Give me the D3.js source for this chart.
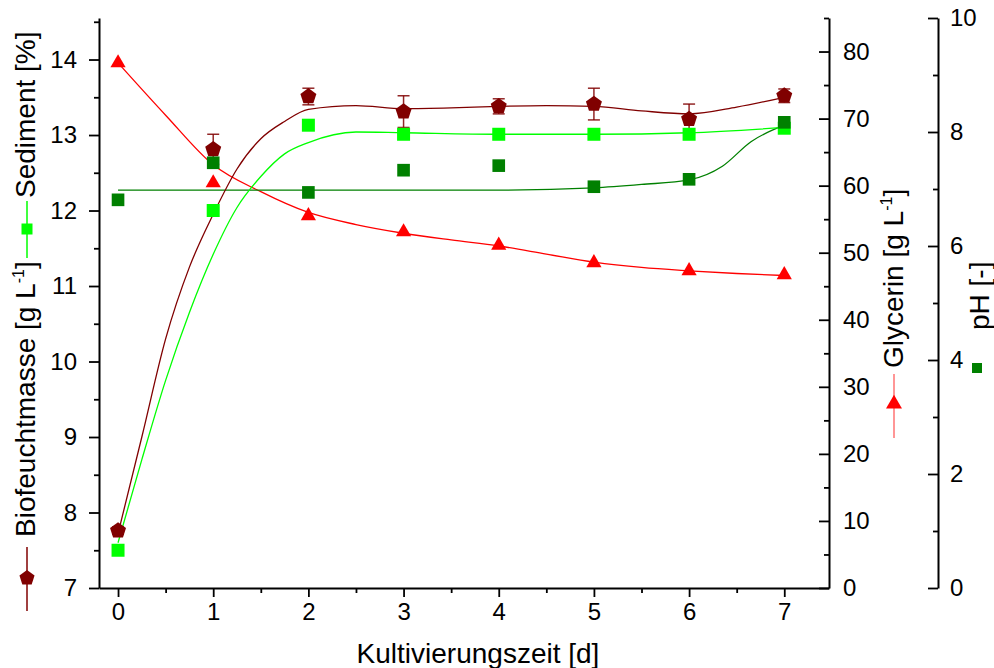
<!DOCTYPE html>
<html>
<head>
<meta charset="utf-8">
<script src="https://cdn.jsdelivr.net/npm/d3@7"></script>
<style>
  body { margin: 0; background: #fff; }
  svg text { font-family: "Liberation Sans", Arial, sans-serif; fill: #000; }
</style>
</head>
<body>
<svg id="chart" width="994" height="668"></svg>
<script>
// measured points
const days = [0, 1, 2, 3, 4, 5, 6, 7];
const biomass = [7.76, 12.81, 13.51, 13.31, 13.38, 13.41, 13.21, 13.52];
const biomassErr = [0.05, 0.2, 0.11, 0.21, 0.1, 0.21, 0.2, 0.09];
const sediment = [7.50, 12.00, 13.13, 13.01, 13.01, 13.01, 13.01, 13.09];
const glycerin = [78.3, 60.4, 55.5, 53.1, 51.1, 48.5, 47.3, 46.7];
const ph = [6.81, 7.46, 6.94, 7.33, 7.41, 7.04, 7.17, 8.17];

// fitted curves
const biomassFitDays = [0, 0.25, 0.5, 0.75, 1, 1.25, 1.5, 1.75, 2, 2.5, 3, 3.5, 4, 4.5, 5, 5.5, 6, 6.5, 7];
const biomassFit = [7.72, 9.0, 10.3, 11.25, 11.95, 12.55, 12.95, 13.18, 13.34, 13.39, 13.35, 13.36, 13.38, 13.39, 13.38, 13.32, 13.28, 13.37, 13.5];
const sedimentFitDays = [0, 0.25, 0.5, 0.75, 1, 1.25, 1.5, 1.75, 2, 2.5, 3, 4, 5, 6, 7];
const sedimentFit = [7.6, 8.7, 9.75, 10.65, 11.42, 12.04, 12.45, 12.75, 12.9, 13.04, 13.03, 13.01, 13.01, 13.03, 13.1];
const glycerinFitDays = [0, 0.5, 1, 1.5, 2, 2.5, 3, 3.5, 4, 4.5, 5, 5.5, 6, 6.5, 7];
const glycerinFit = [78.3, 70.5, 63.1, 59.1, 56.0, 54.2, 52.9, 51.9, 51.0, 49.8, 48.6, 47.8, 47.3, 46.9, 46.6];
const phFitDays = [0, 1, 2, 3, 4, 5, 5.5, 6, 6.35, 6.65, 7];
const phFit = [6.98, 6.98, 6.98, 6.98, 6.98, 7.02, 7.08, 7.16, 7.4, 7.83, 8.12];

// ticks
const xTicks = [0, 1, 2, 3, 4, 5, 6, 7];
const xMinor = [0.5, 1.5, 2.5, 3.5, 4.5, 5.5, 6.5];
const leftTicks = [7, 8, 9, 10, 11, 12, 13, 14];
const leftMinor = [7.5, 8.5, 9.5, 10.5, 11.5, 12.5, 13.5, 14.5];
const glyTicks = [0, 10, 20, 30, 40, 50, 60, 70, 80];
const glyMinor = [5, 15, 25, 35, 45, 55, 65, 75, 85];
const phTicks = [0, 2, 4, 6, 8, 10];
const phMinor = [1, 3, 5, 7, 9];

const darkRed = "#800000";
const lime = "#00ff00";
const darkGreen = "#008000";
const red = "#ff0000";

const svg = d3.select("#chart");
const plotTop = 18, plotBottom = 588, plotLeft = 99, axisG = 829, axisP = 938;

const x = d3.scaleLinear().domain([-0.2, 7.47]).range([plotLeft, axisG]);
const yL = d3.scaleLinear().domain([7, 14.55]).range([plotBottom, plotTop]);
const yG = d3.scaleLinear().domain([0, 85]).range([plotBottom, plotTop]);
const yP = d3.scaleLinear().domain([0, 10]).range([plotBottom, plotTop]);

const pentagon = {
  draw(context, size) {
    const r = Math.sqrt(size / 2.378);
    for (let i = 0; i < 5; i++) {
      const a = -Math.PI / 2 + i * 2 * Math.PI / 5;
      if (i === 0) context.moveTo(r * Math.cos(a), r * Math.sin(a));
      else context.lineTo(r * Math.cos(a), r * Math.sin(a));
    }
    context.closePath();
  }
};

function styleAxis(g) {
  g.select(".domain").attr("stroke-width", 2);
  g.selectAll(".tick line").attr("stroke-width", 1.8);
  g.selectAll(".tick text").style("font-size", "24px").attr("fill", "#000");
}

function minorAxis(axis, values, size) {
  return axis.tickValues(values).tickSize(size).tickFormat("");
}

// x axis
svg.append("g")
  .attr("transform", `translate(0,${plotBottom})`)
  .call(minorAxis(d3.axisBottom(x), xMinor, 5))
  .call(g => g.select(".domain").remove())
  .call(styleAxis);
svg.append("g")
  .attr("transform", `translate(0,${plotBottom})`)
  .call(d3.axisBottom(x).tickValues(xTicks).tickSize(9).tickSizeOuter(0).tickPadding(6).tickFormat(d3.format("d")))
  .call(styleAxis);

// left axis
svg.append("g")
  .attr("transform", `translate(${plotLeft},0)`)
  .call(minorAxis(d3.axisLeft(yL), leftMinor, 5))
  .call(g => g.select(".domain").remove())
  .call(styleAxis);
svg.append("g")
  .attr("transform", `translate(${plotLeft},0)`)
  .call(d3.axisLeft(yL).tickValues(leftTicks).tickSize(10).tickSizeOuter(0).tickPadding(12).tickFormat(d3.format("d")))
  .call(styleAxis);

// glycerin axis
svg.append("g")
  .attr("transform", `translate(${axisG},0)`)
  .call(minorAxis(d3.axisRight(yG), glyMinor, -5))
  .call(g => g.select(".domain").remove())
  .call(styleAxis);
svg.append("g")
  .attr("transform", `translate(${axisG},0)`)
  .call(d3.axisRight(yG).tickValues(glyTicks).tickSize(-10).tickSizeOuter(0).tickPadding(14).tickFormat(d3.format("d")))
  .call(styleAxis);

// pH axis
svg.append("g")
  .attr("transform", `translate(${axisP},0)`)
  .call(minorAxis(d3.axisRight(yP), phMinor, -5))
  .call(g => g.select(".domain").remove())
  .call(styleAxis);
svg.append("g")
  .attr("transform", `translate(${axisP},0)`)
  .call(d3.axisRight(yP).tickValues(phTicks).tickSize(-10).tickSizeOuter(0).tickPadding(12).tickFormat(d3.format("d")))
  .call(styleAxis);

// fitted lines
function drawFit(xs, ys, yScale, color) {
  const line = d3.line()
    .x((d, i) => x(xs[i]))
    .y(d => yScale(d))
    .curve(d3.curveMonotoneX);
  svg.append("path")
    .datum(ys)
    .attr("d", line)
    .attr("fill", "none")
    .attr("stroke", color)
    .attr("stroke-width", 1.3);
}

drawFit(glycerinFitDays, glycerinFit, yG, red);
drawFit(phFitDays, phFit, yP, darkGreen);
drawFit(sedimentFitDays, sedimentFit, yL, lime);
drawFit(biomassFitDays, biomassFit, yL, darkRed);

// error bars
const err = svg.append("g")
  .attr("stroke", darkRed)
  .attr("stroke-width", 1.5)
  .attr("stroke-opacity", 0.85);
days.forEach((d, i) => {
  const cx = x(d);
  const y1 = yL(biomass[i] + biomassErr[i]);
  const y2 = yL(biomass[i] - biomassErr[i]);
  err.append("line").attr("x1", cx).attr("x2", cx).attr("y1", y1).attr("y2", y2);
  err.append("line").attr("x1", cx - 6).attr("x2", cx + 6).attr("y1", y1).attr("y2", y1);
  err.append("line").attr("x1", cx - 6).attr("x2", cx + 6).attr("y1", y2).attr("y2", y2);
});

// markers
function drawMarkers(values, yScale, type, size, color) {
  svg.append("g")
    .selectAll("path")
    .data(values)
    .join("path")
    .attr("transform", (d, i) => `translate(${x(days[i])},${yScale(d)})`)
    .attr("d", d3.symbol().type(type).size(size))
    .attr("fill", color);
}

drawMarkers(glycerin, yG, d3.symbolTriangle, 100, red);
drawMarkers(sediment, yL, d3.symbolSquare, 169, lime);
drawMarkers(biomass, yL, pentagon, 168, darkRed);
drawMarkers(ph, yP, d3.symbolSquare, 160, darkGreen);

// axis titles with legend keys
function legendKey(cx, y1, y2, cy, type, size, color, lineOpacity) {
  if (y1 !== null) {
    svg.append("line")
      .attr("x1", cx).attr("x2", cx).attr("y1", y1).attr("y2", y2)
      .attr("stroke", color).attr("stroke-width", 1.5)
      .attr("stroke-opacity", lineOpacity);
  }
  svg.append("path")
    .attr("transform", `translate(${cx},${cy})`)
    .attr("d", d3.symbol().type(type).size(size))
    .attr("fill", color);
}

function vTitle(px, py, parts) {
  const t = svg.append("text")
    .attr("transform", `translate(${px},${py}) rotate(-90)`)
    .style("font-size", "28px");
  parts.forEach(p => {
    const s = t.append("tspan").text(p.text);
    if (p.sup) s.attr("dy", -11).style("font-size", "16px");
    if (p.after) s.attr("dy", 11);
  });
}

legendKey(27, 547, 611, 578, pentagon, 150, darkRed, 1);
vTitle(35, 537, [{ text: "Biofeuchtmasse [g L" }, { text: "-1", sup: true }, { text: "]", after: true }]);
legendKey(27, 201, 258, 229, d3.symbolSquare, 121, lime, 1);
vTitle(35, 198, [{ text: "Sediment [%]" }]);

legendKey(894, 374, 438, 404, d3.symbolTriangle, 110, red, 0.55);
vTitle(903, 368, [{ text: "Glycerin [g L" }, { text: "-1", sup: true }, { text: "]", after: true }]);

legendKey(977, null, null, 368, d3.symbolSquare, 100, darkGreen, 1);
vTitle(989, 330, [{ text: "pH [-]" }]);

svg.append("text")
  .attr("x", 478)
  .attr("y", 663)
  .attr("text-anchor", "middle")
  .style("font-size", "28px")
  .text("Kultivierungszeit [d]");
</script>
</body>
</html>
